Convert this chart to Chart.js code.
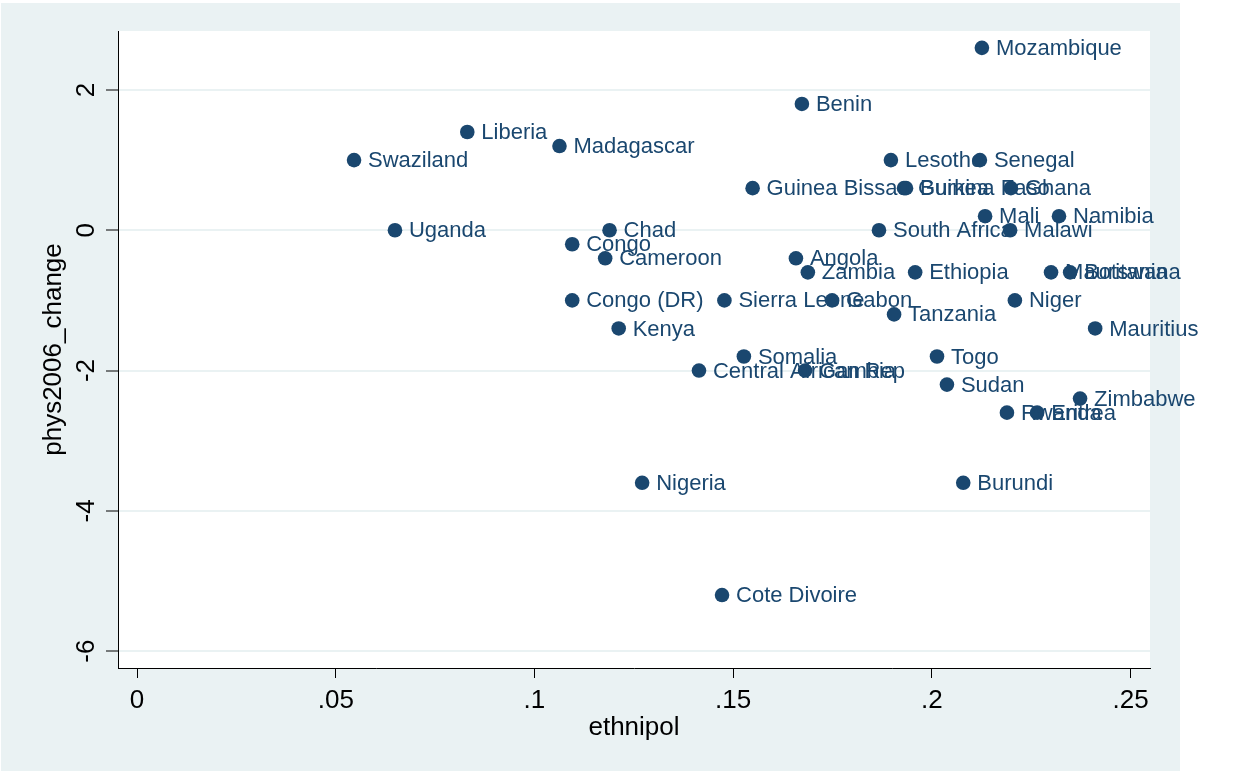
<!DOCTYPE html>
<html>
<head>
<meta charset="utf-8">
<script src="https://cdn.jsdelivr.net/npm/chart.js@4.4.1/dist/chart.umd.min.js"></script>
<style>
  html, body { margin: 0; padding: 0; background: #ffffff; }
  #wrap { width: 1241px; height: 772px; }
</style>
</head>
<body>
<div id="wrap"><canvas id="c" width="1241" height="772"></canvas></div>
<script>
const countries = ["Mozambique","Benin","Liberia","Swaziland","Madagascar","Lesotho","Senegal",
  "Guinea Bissau","Guinea","Burkina Faso","Ghana","Mali","Namibia","South Africa","Malawi",
  "Uganda","Chad","Congo","Cameroon","Angola","Zambia","Ethiopia","Mauritania","Botswana",
  "Congo (DR)","Sierra Leone","Gabon","Tanzania","Niger","Mauritius","Kenya","Somalia",
  "Central African Rep","Gambia","Togo","Sudan","Zimbabwe","Rwanda","Eritrea","Nigeria",
  "Burundi","Cote Divoire"];
const ethnipol = [0.2126,0.1673,0.0831,0.0546,0.1063,0.1897,0.2121,
  0.1549,0.1930,0.1935,0.2199,0.2134,0.2320,0.1867,0.2197,
  0.0649,0.1189,0.1095,0.1178,0.1658,0.1688,0.1958,0.2300,0.2348,
  0.1095,0.1478,0.1749,0.1905,0.2209,0.2411,0.1212,0.1527,
  0.1414,0.1681,0.2013,0.2038,0.2373,0.2189,0.2265,0.1271,
  0.2079,0.1472];
const phys2006_change = [2.6,1.8,1.4,1.0,1.2,1.0,1.0,
  0.6,0.6,0.6,0.6,0.2,0.2,0.0,0.0,
  0.0,0.0,-0.2,-0.4,-0.4,-0.6,-0.6,-0.6,-0.6,
  -1.0,-1.0,-1.0,-1.2,-1.0,-1.4,-1.4,-1.8,
  -2.0,-2.0,-1.8,-2.2,-2.4,-2.6,-2.6,-3.6,
  -3.6,-5.2];
const xTicks = [0, 0.05, 0.1, 0.15, 0.2, 0.25];
const xTickLabels = ["0", ".05", ".1", ".15", ".2", ".25"];
const yTicks = [-6, -4, -2, 0, 2];
const yTickLabels = ["-6", "-4", "-2", "0", "2"];

const NAVY = '#1a476f';
const BG = '#eaf2f3';
const FONT = '"Liberation Sans", Arial, Helvetica, sans-serif';
Chart.defaults.font.family = FONT;

const points = ethnipol.map((x, i) => ({x: x, y: phys2006_change[i], label: countries[i]}));

const bgPlugin = {
  id: 'bgPlugin',
  beforeDraw(chart) {
    const ctx = chart.ctx, a = chart.chartArea;
    ctx.save();
    ctx.fillStyle = '#ffffff';
    ctx.fillRect(0, 0, chart.width, chart.height);
    ctx.fillStyle = BG;
    ctx.fillRect(1, 3, 1179, 768);
    ctx.fillStyle = '#ffffff';
    ctx.fillRect(a.left, a.top, a.right - a.left, a.bottom - a.top);
    ctx.restore();
  }
};

const labelPlugin = {
  id: 'labelPlugin',
  afterDatasetsDraw(chart) {
    const ctx = chart.ctx;
    const meta = chart.getDatasetMeta(0);
    ctx.save();
    ctx.font = '22px ' + FONT;
    ctx.fillStyle = NAVY;
    ctx.textAlign = 'left';
    ctx.textBaseline = 'middle';
    meta.data.forEach((el, i) => {
      ctx.fillText(points[i].label, el.x + 14, el.y + 1);
    });
    ctx.restore();
  },
  afterDraw(chart) {
    const ctx = chart.ctx;
    const ys = chart.scales.y;
    ctx.save();
    ctx.font = '26px ' + FONT;
    ctx.fillStyle = '#000000';
    ctx.textAlign = 'center';
    ctx.textBaseline = 'middle';
    yTicks.forEach((v, i) => {
      const py = ys.getPixelForValue(v);
      ctx.save();
      ctx.translate(87, py);
      ctx.rotate(-Math.PI / 2);
      ctx.fillText(yTickLabels[i], 0, 0);
      ctx.restore();
    });
    ctx.restore();
  }
};

new Chart(document.getElementById('c'), {
  type: 'scatter',
  data: {
    datasets: [{
      data: points,
      backgroundColor: NAVY,
      borderColor: NAVY,
      borderWidth: 0,
      pointRadius: 7.3,
      pointHoverRadius: 7.3
    }]
  },
  options: {
    responsive: false,
    animation: false,
    events: [],
    layout: { padding: { left: 0, top: 31, right: 91, bottom: 0 } },
    plugins: { legend: { display: false }, tooltip: { enabled: false } },
    scales: {
      x: {
        type: 'linear',
        min: -0.0048,
        max: 0.2549,
        afterBuildTicks(scale) { scale.ticks = xTicks.map(v => ({value: v})); },
        afterFit(scale) { scale.height = 104; },
        grid: { drawOnChartArea: false, drawTicks: true, tickLength: 10, tickColor: '#000', tickWidth: 1 },
        border: { display: true, color: '#000', width: 1 },
        ticks: {
          color: '#000',
          font: { size: 26, family: FONT },
          padding: 7,
          maxRotation: 0,
          callback(v) { const i = xTicks.indexOf(v); return i >= 0 ? xTickLabels[i] : ''; }
        },
        title: {
          display: true, text: 'ethnipol', color: '#000',
          font: { size: 26, family: FONT },
          padding: { top: 0, bottom: 29 }
        }
      },
      y: {
        type: 'linear',
        min: -6.24,
        max: 2.84,
        afterBuildTicks(scale) { scale.ticks = yTicks.map(v => ({value: v})); },
        afterFit(scale) { scale.width = 118; },
        grid: { drawOnChartArea: true, color: BG, lineWidth: 2, drawTicks: true, tickLength: 12, tickColor: '#000', tickWidth: 1 },
        border: { display: true, color: '#000', width: 1 },
        ticks: { display: false },
        title: {
          display: true, text: 'phys2006_change', color: '#000',
          font: { size: 26, family: FONT },
          padding: { top: 38, bottom: 0 }
        }
      }
    }
  },
  plugins: [bgPlugin, labelPlugin]
});
</script>
</body>
</html>
